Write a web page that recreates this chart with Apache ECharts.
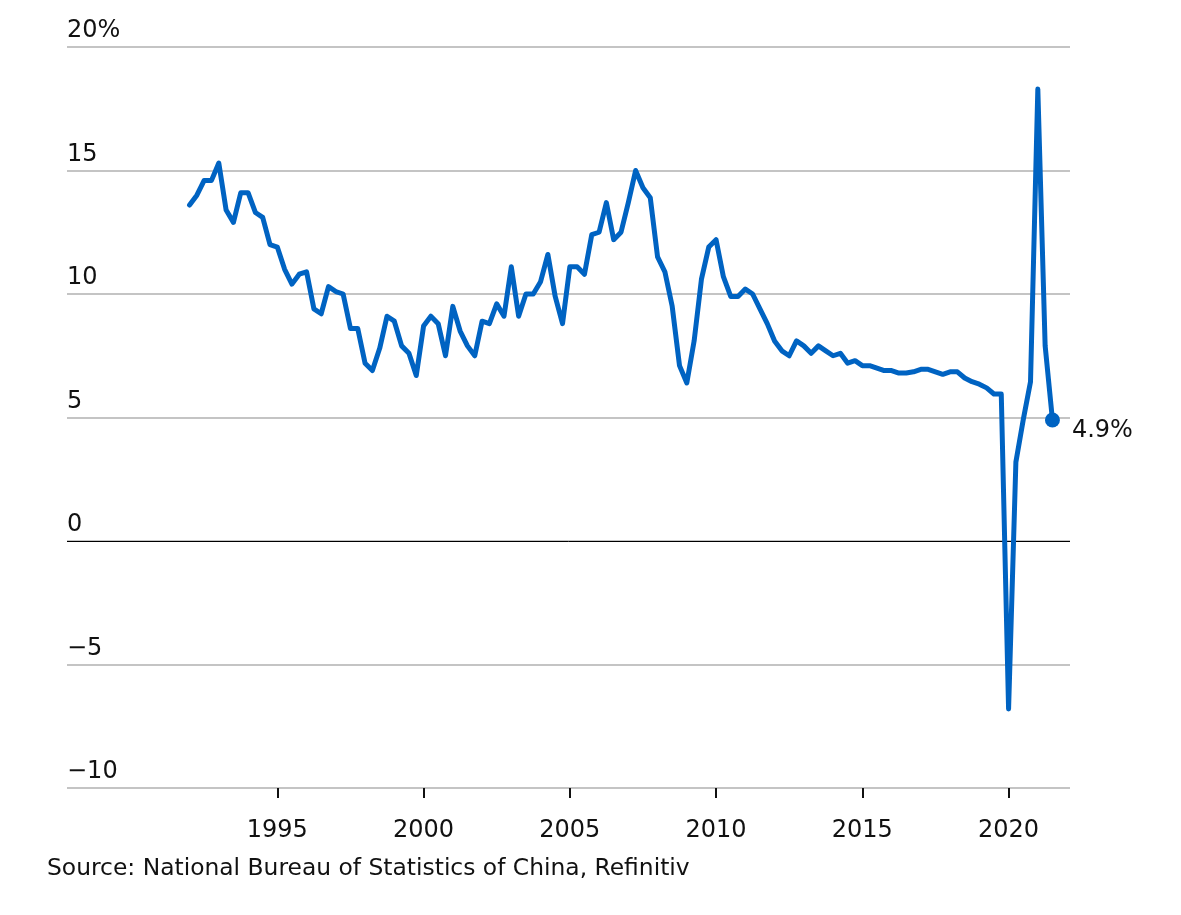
<!DOCTYPE html>
<html>
<head>
<meta charset="utf-8">
<script src="https://cdn.jsdelivr.net/npm/echarts@6/dist/echarts.min.js"></script>
<style>
html,body{margin:0;padding:0;background:#fff;}
#chart{width:1181px;height:915px;}
</style>
</head>
<body>
<div id="chart"></div>
<script>
// Quarterly real GDP growth, year on year (%), 1992 Q1 – 2021 Q3
var years = [1992,1993,1994,1995,1996,1997,1998,1999,2000,2001,2002,2003,2004,2005,2006,2007,2008,2009,2010,2011,2012,2013,2014,2015,2016,2017,2018,2019,2020,2021];
var growth = [
  [13.6, 14.0, 14.6, 14.6],
  [15.3, 13.4, 12.9, 14.1],
  [14.1, 13.3, 13.1, 12.0],
  [11.9, 11.0, 10.4, 10.8],
  [10.9, 9.4, 9.2, 10.3],
  [10.1, 10.0, 8.6, 8.6],
  [7.2, 6.9, 7.8, 9.1],
  [8.9, 7.9, 7.6, 6.7],
  [8.7, 9.1, 8.8, 7.5],
  [9.5, 8.5, 7.9, 7.5],
  [8.9, 8.8, 9.6, 9.1],
  [11.1, 9.1, 10.0, 10.0],
  [10.5, 11.6, 9.9, 8.8],
  [11.1, 11.1, 10.8, 12.4],
  [12.5, 13.7, 12.2, 12.5],
  [13.7, 15.0, 14.3, 13.9],
  [11.5, 10.9, 9.5, 7.1],
  [6.4, 8.1, 10.6, 11.9],
  [12.2, 10.7, 9.9, 9.9],
  [10.2, 10.0, 9.4, 8.8],
  [8.1, 7.7, 7.5, 8.1],
  [7.9, 7.6, 7.9, 7.7],
  [7.5, 7.6, 7.2, 7.3],
  [7.1, 7.1, 7.0, 6.9],
  [6.9, 6.8, 6.8, 6.85],
  [6.95, 6.95, 6.85, 6.75],
  [6.85, 6.85, 6.6, 6.45],
  [6.35, 6.2, 5.95, 5.95],
  [-6.8, 3.2, 4.9, 6.45],
  [18.3, 7.9, 4.9]
];
var xTickYears = [1995, 2000, 2005, 2010, 2015, 2020];
var lastLabel = '4.9%';
var sourceText = 'Source: National Bureau of Statistics of China, Refinitiv';

var points = [];
years.forEach(function (y, i) {
  growth[i].forEach(function (v, q) {
    points.push([y + q / 4, v]);
  });
});
var lastPoint = points[points.length - 1];

var FONT = '"DejaVu Sans", "Liberation Sans", Arial, sans-serif';
var chart = echarts.init(document.getElementById('chart'), null, {renderer: 'canvas'});
chart.setOption({
  animation: false,
  backgroundColor: '#ffffff',
  title: {
    text: sourceText,
    left: 47,
    top: 857,
    padding: 0,
    textStyle: {fontFamily: FONT, fontSize: 23.4, fontWeight: 'normal', color: '#111'}
  },
  grid: {left: 67, right: 111, top: 47, bottom: 127, containLabel: false},
  xAxis: {
    type: 'value',
    min: 1987.81,
    max: 2022.1,
    axisLine: {show: false, onZero: false},
    splitLine: {show: false},
    axisTick: {show: true, customValues: xTickYears, length: 10, lineStyle: {color: '#111', width: 2}},
    axisLabel: {
      customValues: xTickYears,
      margin: 31,
      fontFamily: FONT, fontSize: 24, color: '#111',
      formatter: function (v) { return String(v); }
    }
  },
  yAxis: {
    type: 'value',
    min: -10,
    max: 20,
    interval: 5,
    axisLine: {show: false},
    axisTick: {show: false},
    splitLine: {show: true, lineStyle: {color: '#c4c4c4', width: 2}},
    axisLabel: {
      inside: true,
      margin: 0,
      align: 'left',
      verticalAlign: 'bottom',
      padding: [0, 0, 4, 0],
      fontFamily: FONT, fontSize: 24, color: '#111',
      formatter: function (v) {
        if (v === 20) return '20%';
        if (v < 0) return '\u2212' + Math.abs(v);
        return String(v);
      }
    }
  },
  series: [
    {
      type: 'line',
      data: points,
      showSymbol: false,
      symbol: 'none',
      lineStyle: {color: '#0063c2', width: 5, join: 'round', cap: 'round'},
      z: 3,
      markLine: {
        silent: true,
        symbol: ['none', 'none'],
        label: {show: false},
        lineStyle: {color: '#000', width: 1, type: 'solid'},
        data: [{yAxis: 0}],
        z: 2
      }
    },
    {
      type: 'scatter',
      data: [lastPoint],
      symbol: 'circle',
      symbolSize: 15,
      itemStyle: {color: '#0063c2', opacity: 1},
      z: 4,
      label: {
        show: true,
        position: 'right',
        distance: 12,
        offset: [0, 11],
        formatter: lastLabel,
        fontFamily: FONT, fontSize: 24, color: '#111'
      }
    }
  ]
});
</script>
</body>
</html>
